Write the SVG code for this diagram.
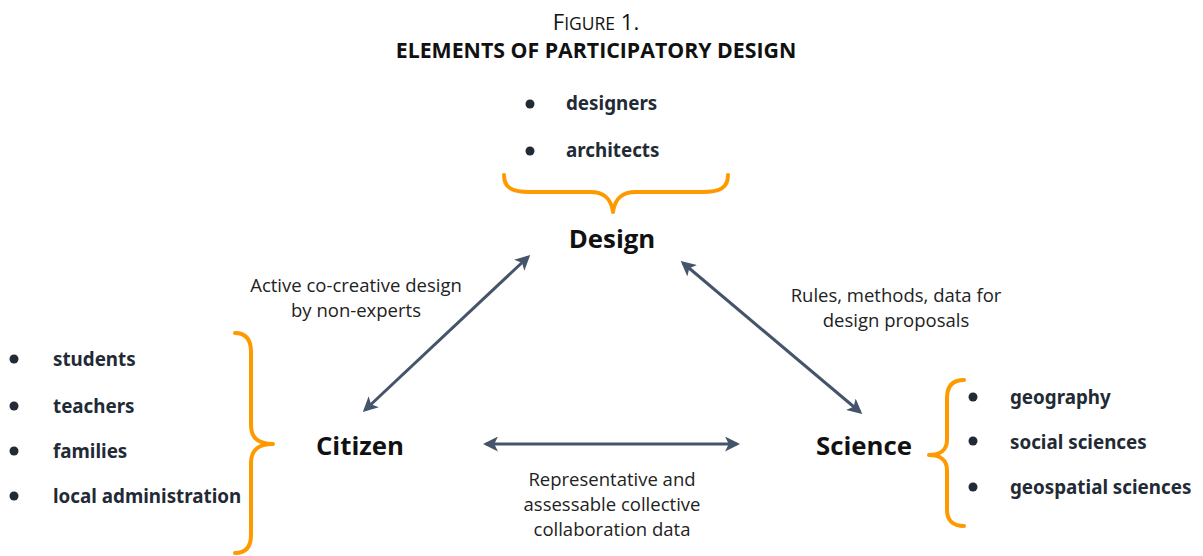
<svg xmlns="http://www.w3.org/2000/svg" width="1203" height="556" viewBox="0 0 1203 556">
  <defs>
    <marker id="arrow" viewBox="0 0 10 10" refX="8" refY="5" markerWidth="5" markerHeight="5" orient="auto-start-reverse" markerUnits="strokeWidth">
      <path d="M0,0 L10,5 L0,10 L2.5,5 Z" fill="#44546A"/>
    </marker>
  </defs>
  <style>
    .title { font-family: "Open Sans", "Noto Sans", sans-serif; fill: #111; }
    .label { font-family: "Open Sans", "Noto Sans", sans-serif; font-size: 18.5px; fill: #222; }
    .node { font-family: "Open Sans", "Noto Sans", sans-serif; font-weight: bold; font-size: 25.8px; fill: #111; }
    .item { font-family: "Noto Sans", "Open Sans", sans-serif; font-weight: bold; font-size: 18.8px; fill: #222a35; }
    .dot { fill: #222a35; }
    .brace { fill: none; stroke: #FF9900; stroke-width: 4; stroke-linecap: round; stroke-linejoin: round; }
    .conn { fill: none; stroke: #44546A; stroke-width: 3; marker-start: url(#arrow); marker-end: url(#arrow); }
  </style>
  <rect width="1203" height="556" fill="#fff"/>

  <!-- heading -->
  <g id="heading">
    <text class="title" x="596" y="30" text-anchor="middle" font-size="22">F<tspan font-size="17.5">IGURE</tspan> 1.</text>
    <text class="title" x="596" y="58" text-anchor="middle" font-size="21.3" font-weight="bold">ELEMENTS OF PARTICIPATORY DESIGN</text>
  </g>

  <!-- connectors -->
  <g id="connectors">
    <line class="conn" x1="365" y1="410" x2="528" y2="257"/>
    <line class="conn" x1="683" y1="263" x2="860" y2="412"/>
    <line class="conn" x1="486" y1="444" x2="737" y2="444"/>
    <text class="label" x="356" y="292" text-anchor="middle">Active co-creative design</text>
    <text class="label" x="356" y="317" text-anchor="middle">by non-experts</text>
    <text class="label" x="896" y="302" text-anchor="middle">Rules, methods, data for</text>
    <text class="label" x="896" y="327" text-anchor="middle">design proposals</text>
    <text class="label" x="612" y="486" text-anchor="middle">Representative and</text>
    <text class="label" x="612" y="511" text-anchor="middle">assessable collective</text>
    <text class="label" x="612" y="536" text-anchor="middle">collaboration data</text>
  </g>

  <!-- Design node with its members -->
  <g id="design">
    <circle class="dot" cx="530" cy="104" r="4.5"/>
    <text class="item" x="566" y="110">designers</text>
    <circle class="dot" cx="530" cy="151" r="4.5"/>
    <text class="item" x="566" y="157">architects</text>
    <path class="brace" d="M504,175 C504,188 512,192 530,192 L590,192 C604,192 611,198 613,212 C615,198 622,192 636,192 L702,192 C720,192 728,188 728,175"/>
    <text class="node" x="612" y="248" text-anchor="middle">Design</text>
  </g>

  <!-- Citizen node with its members -->
  <g id="citizen">
    <circle class="dot" cx="14" cy="359" r="4.5"/>
    <text class="item" x="53" y="366">students</text>
    <circle class="dot" cx="14" cy="406" r="4.5"/>
    <text class="item" x="53" y="413">teachers</text>
    <circle class="dot" cx="14" cy="451" r="4.5"/>
    <text class="item" x="53" y="458">families</text>
    <circle class="dot" cx="14" cy="496" r="4.5"/>
    <text class="item" x="53" y="503">local administration</text>
    <path class="brace" d="M235,333 C246,333 251,340 251,352 L251,425 C251,438 258,444 273,444 C258,444 251,450 251,463 L251,535 C251,547 246,553 235,553"/>
    <text class="node" x="360" y="455" text-anchor="middle">Citizen</text>
  </g>

  <!-- Science node with its members -->
  <g id="science">
    <path class="brace" d="M964,380 C953,380 947,386 947,398 L947,440 C947,450 940,455 929,455 C940,455 947,460 947,470 L947,510 C947,520 953,526 964,526"/>
    <circle class="dot" cx="973" cy="397" r="4.5"/>
    <text class="item" x="1010" y="404">geography</text>
    <circle class="dot" cx="973" cy="441" r="4.5"/>
    <text class="item" x="1010" y="449">social sciences</text>
    <circle class="dot" cx="973" cy="487" r="4.5"/>
    <text class="item" x="1010" y="494">geospatial sciences</text>
    <text class="node" x="864" y="455" text-anchor="middle">Science</text>
  </g>
</svg>
